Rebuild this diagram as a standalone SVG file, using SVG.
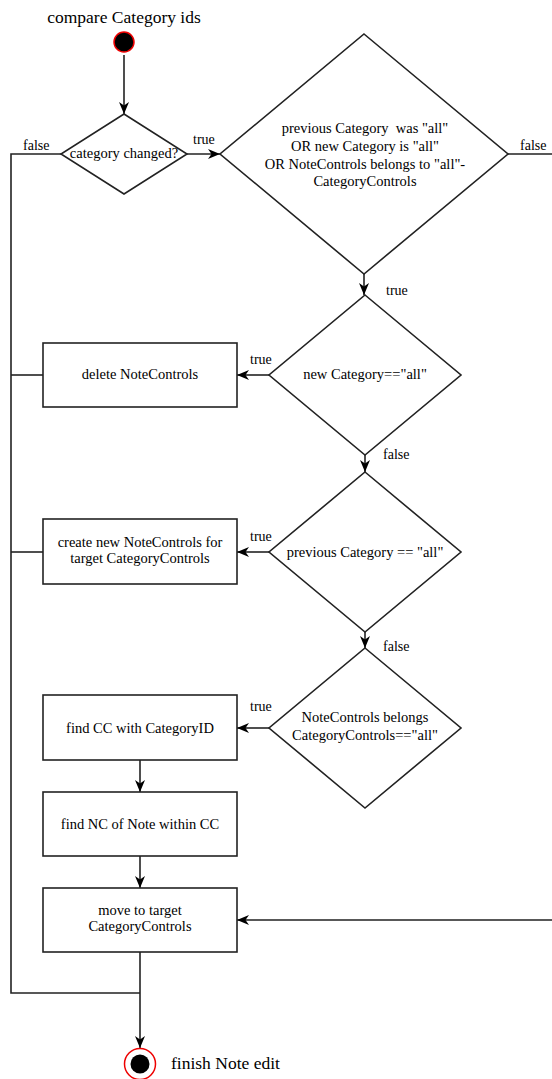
<svg xmlns="http://www.w3.org/2000/svg" width="552" height="1079" viewBox="0 0 552 1079">
<style>
  .shape { fill: #ffffff; stroke: #222222; stroke-width: 1.6; }
  .conn { fill: none; stroke: #222222; stroke-width: 1.6; }
  .t { font-family: "Liberation Serif", "Times New Roman", serif; font-size: 14.5px; fill: #000000; text-anchor: middle; }
  .lbl { font-family: "Liberation Serif", "Times New Roman", serif; font-size: 14px; fill: #000000; }
  .big { font-family: "Liberation Serif", "Times New Roman", serif; font-size: 17.5px; fill: #000000; }
</style>
<defs>
  <marker id="arrow" viewBox="0 0 12 12" refX="12" refY="6" markerWidth="12" markerHeight="12" markerUnits="userSpaceOnUse" orient="auto">
    <path d="M0,1 L12,6 L0,11 L3.5,6 Z" fill="#000000"/>
  </marker>
</defs>
<rect x="0" y="0" width="552" height="1079" fill="#ffffff"/>

<g id="connectors">
  <path class="conn" d="M124,55 V114" marker-end="url(#arrow)"/>
  <path class="conn" d="M187,154 H220" marker-end="url(#arrow)"/>
  <path class="conn" d="M61,154 H11 V993 H140"/>
  <path class="conn" d="M364,274 V295" marker-end="url(#arrow)"/>
  <path class="conn" d="M508,154 H560 V920 H237" marker-end="url(#arrow)"/>
  <path class="conn" d="M269,375 H237" marker-end="url(#arrow)"/>
  <path class="conn" d="M43,375 H11"/>
  <path class="conn" d="M365,455 V472" marker-end="url(#arrow)"/>
  <path class="conn" d="M269,552 H237" marker-end="url(#arrow)"/>
  <path class="conn" d="M43,552 H11"/>
  <path class="conn" d="M365,632 V648" marker-end="url(#arrow)"/>
  <path class="conn" d="M269,728 H237" marker-end="url(#arrow)"/>
  <path class="conn" d="M140,760 V792" marker-end="url(#arrow)"/>
  <path class="conn" d="M140,856 V888" marker-end="url(#arrow)"/>
  <path class="conn" d="M140,952 V1048" marker-end="url(#arrow)"/>
  <text class="lbl" x="23" y="150">false</text>
  <text class="lbl" x="193" y="144">true</text>
  <text class="lbl" x="520" y="150">false</text>
  <text class="lbl" x="386" y="295">true</text>
  <text class="lbl" x="250" y="364">true</text>
  <text class="lbl" x="383" y="459">false</text>
  <text class="lbl" x="250" y="541">true</text>
  <text class="lbl" x="383" y="651">false</text>
  <text class="lbl" x="250" y="711">true</text>
</g>

<g id="start">
  <text class="big" x="124" y="23" text-anchor="middle">compare Category ids</text>
  <circle cx="124" cy="42" r="10" fill="#000000" stroke="#ee0000" stroke-width="1.5"/>
</g>

<g id="d-category-changed">
  <polygon class="shape" points="124,114 187,154 124,194 61,154"/>
  <text class="t" x="124" y="158">category changed?</text>
</g>

<g id="d-all-check">
  <polygon class="shape" points="364,34 508,154 364,274 220,154"/>
  <text class="t" x="365" y="133" xml:space="preserve">previous Category  was "all"</text>
  <text class="t" x="365" y="151">OR new Category is "all"</text>
  <text class="t" x="365" y="168.5">OR NoteControls belongs to "all"-</text>
  <text class="t" x="365" y="186">CategoryControls</text>
</g>

<g id="d-new-all">
  <polygon class="shape" points="365,295 461,375 365,455 269,375"/>
  <text class="t" x="365" y="379">new Category=="all"</text>
</g>

<g id="r-delete">
  <rect class="shape" x="43" y="343" width="194" height="64"/>
  <text class="t" x="140" y="379">delete NoteControls</text>
</g>

<g id="d-prev-all">
  <polygon class="shape" points="365,472 461,552 365,632 269,552"/>
  <text class="t" x="365" y="557">previous Category == "all"</text>
</g>

<g id="r-create">
  <rect class="shape" x="43" y="519" width="194" height="65"/>
  <text class="t" x="140" y="547">create new NoteControls for</text>
  <text class="t" x="140" y="563">target CategoryControls</text>
</g>

<g id="d-belongs">
  <polygon class="shape" points="365,648 461,728 365,808 269,728"/>
  <text class="t" x="365" y="722">NoteControls belongs</text>
  <text class="t" x="365" y="740">CategoryControls=="all"</text>
</g>

<g id="r-find-cc">
  <rect class="shape" x="43" y="695" width="194" height="65"/>
  <text class="t" x="140" y="733">find CC with CategoryID</text>
</g>

<g id="r-find-nc">
  <rect class="shape" x="43" y="792" width="194" height="64"/>
  <text class="t" x="140" y="829">find NC of Note within CC</text>
</g>

<g id="r-move">
  <rect class="shape" x="43" y="888" width="194" height="64"/>
  <text class="t" x="140" y="915">move to target</text>
  <text class="t" x="140" y="931">CategoryControls</text>
</g>

<g id="end">
  <circle cx="140" cy="1064" r="15.5" fill="#ffffff" stroke="#ee0000" stroke-width="1.5"/>
  <circle cx="140" cy="1064" r="9.5" fill="#000000"/>
  <text class="big" x="171" y="1069">finish Note edit</text>
</g>
</svg>
